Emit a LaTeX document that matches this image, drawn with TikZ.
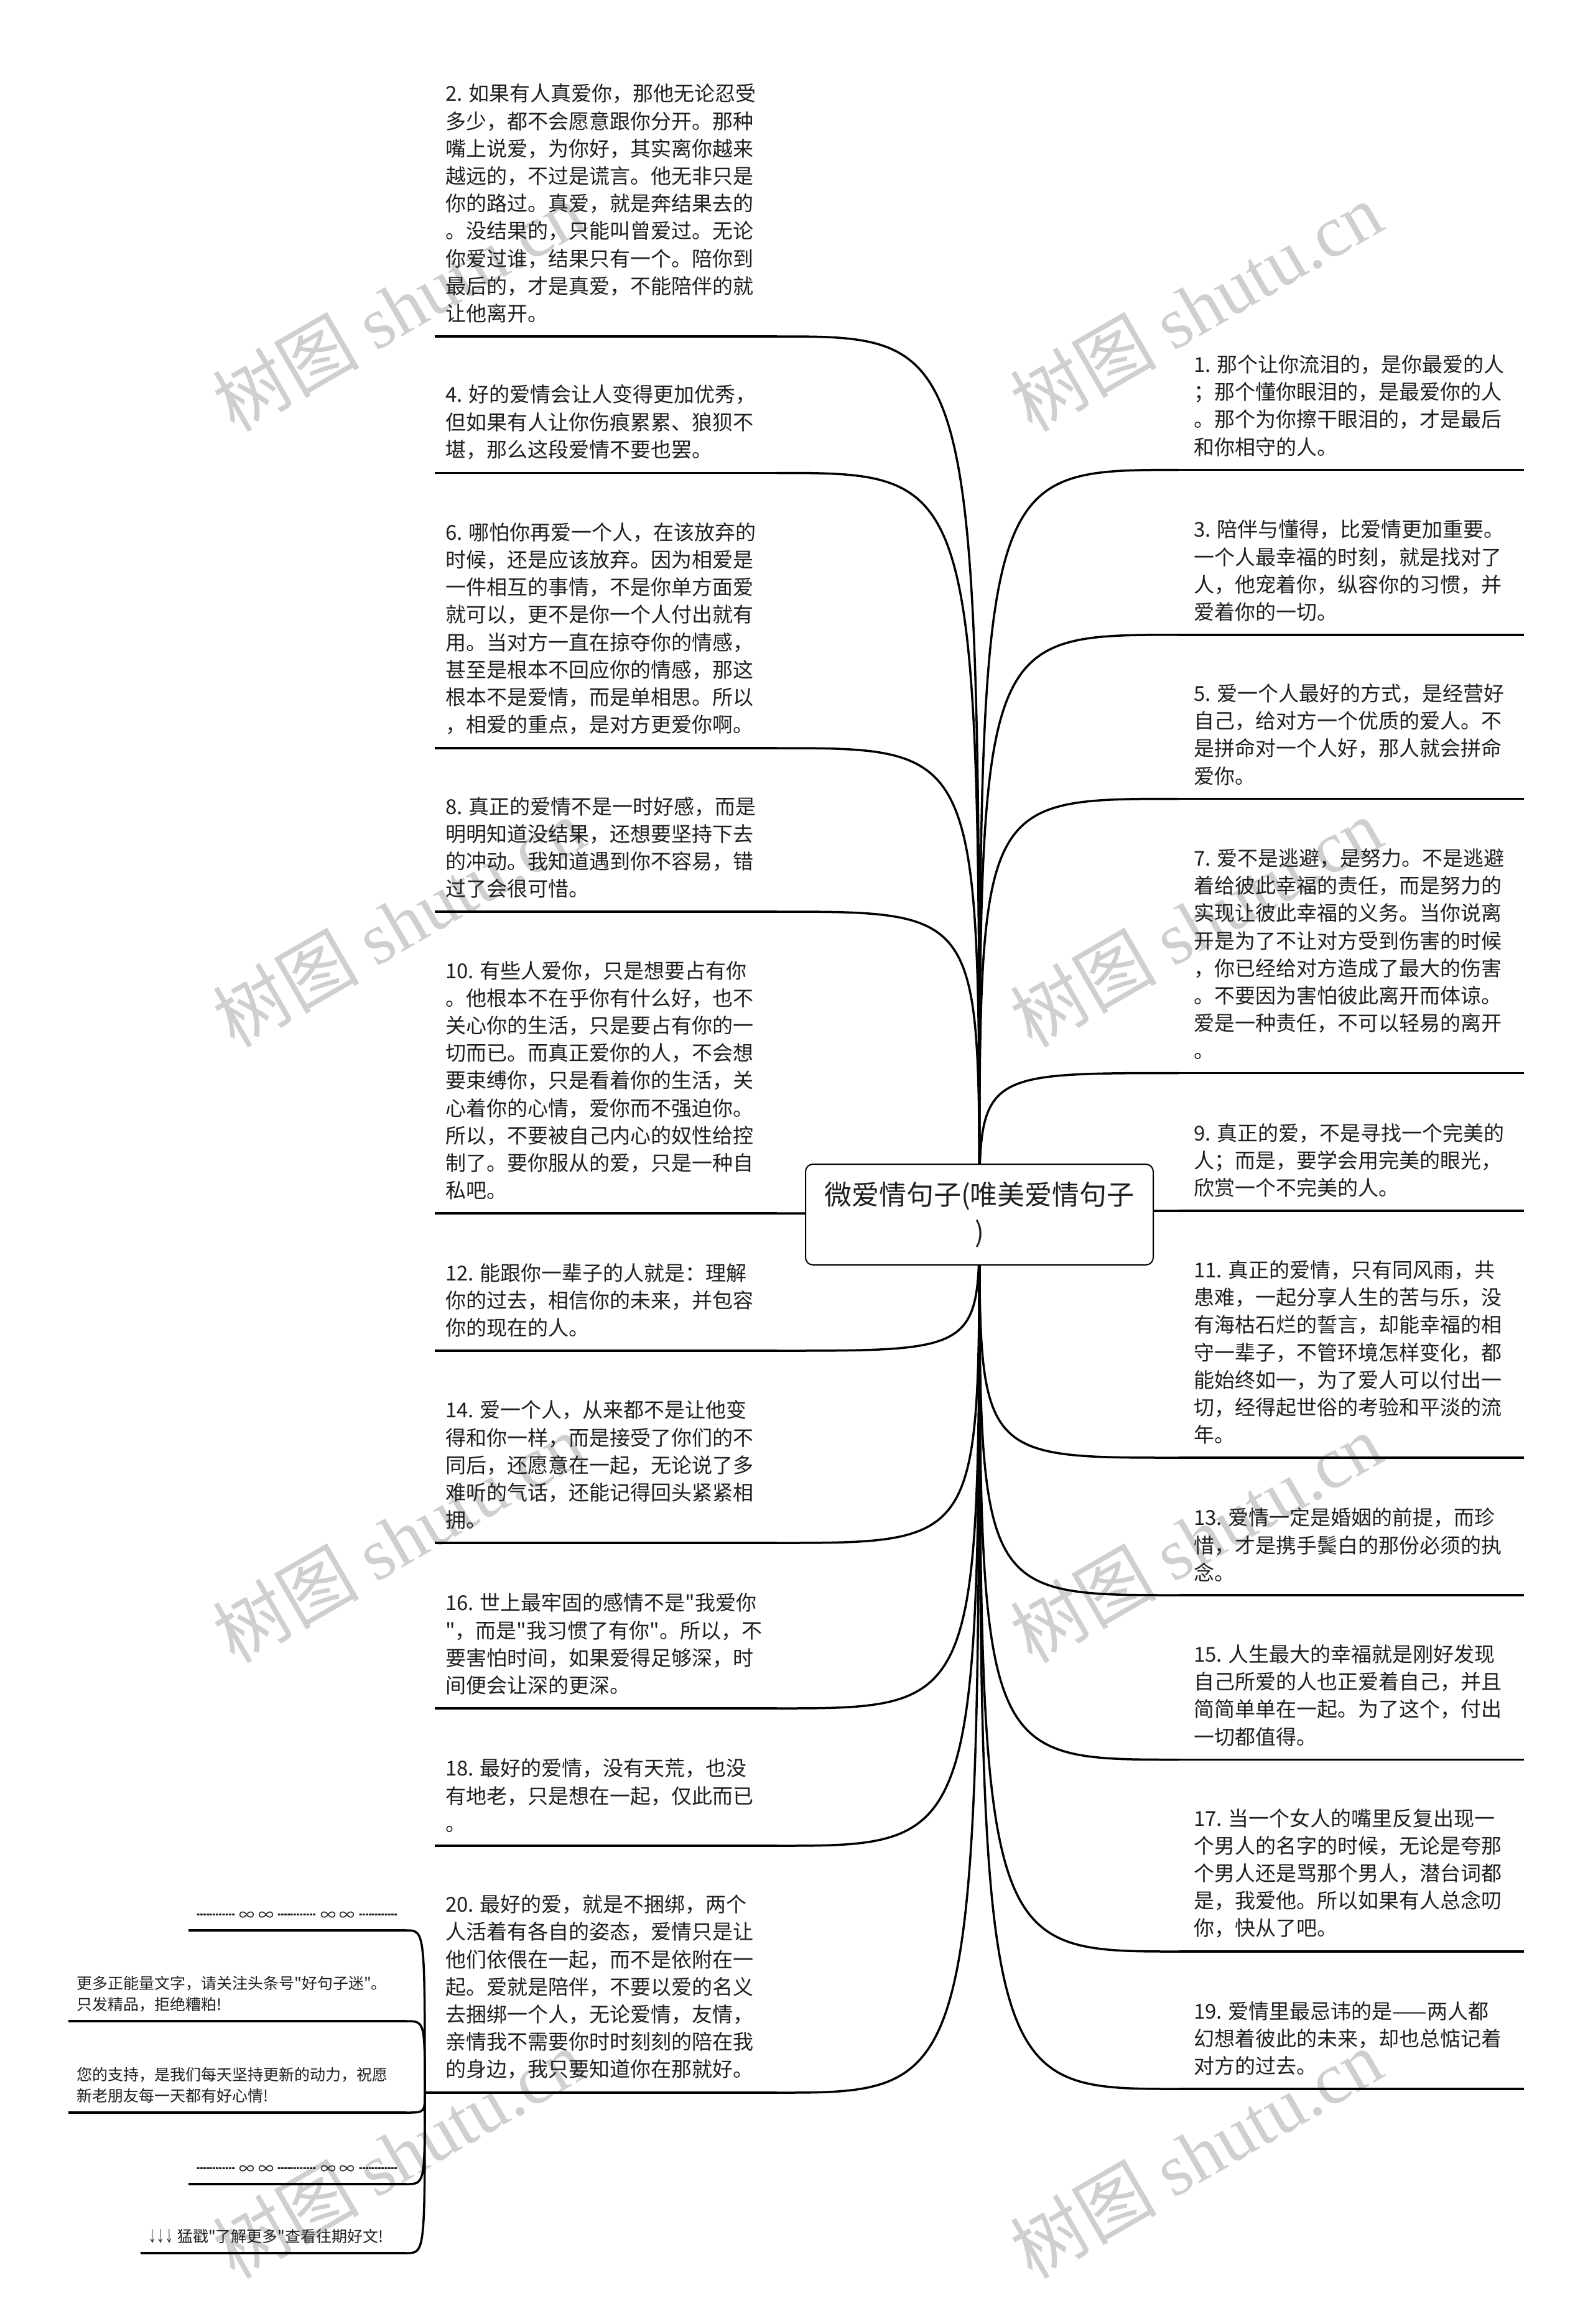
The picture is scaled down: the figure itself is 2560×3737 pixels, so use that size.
\documentclass[tikz,border=0pt]{standalone}
\usepackage{fontspec}
\usepackage{graphicx}
\newfontfamily\cjk{Noto Sans CJK SC}
\newfontfamily\wmlat{Liberation Serif}
\newcommand{\dashgrp}{\makebox[62pt][l]{\scalebox{0.83}[1]{┉┉┉}}}
\newcommand{\infbox}{\makebox[20pt]{∞}}
\newcommand{\ornline}{\dashgrp\hspace{9pt}\infbox\hspace{11pt}\infbox\hspace{8pt}\dashgrp\hspace{10pt}\infbox\hspace{10pt}\infbox\hspace{9pt}\dashgrp}
\begin{document}
\begin{tikzpicture}[x=1pt,y=-1pt]
\tikzset{
  conn/.style={line width=3.5pt, black},
  itemtext/.style={anchor=south west, inner sep=0pt, align=left, text=black!88,
    font=\cjk\fontsize{33}{44.2}\selectfont},
  smalltext/.style={anchor=south west, inner sep=0pt, align=left, text=black!88,
    font=\cjk\fontsize{25}{34}\selectfont},
  wm/.style={anchor=south west, inner sep=0pt, rotate=30, text=black!19,
    font=\cjk\fontsize{118}{118}\selectfont},
  rootbox/.style={draw, line width=2pt, fill=white, rounded corners=12pt,
    minimum width=559pt, minimum height=162pt, inner sep=0pt, align=center,
    text=black!88, font=\cjk\fontsize{44}{60}\selectfont}
}
\useasboundingbox (0,0) rectangle (2560,3737);
\fill[white] (0,0) rectangle (2560,3737);

% watermarks
\foreach \wy [count=\k] in {705,1695,2685,3675}{
  \node[wm] (wmL\k) at (382,\wy) {树图 {\wmlat shutu.cn}};
  \node[wm] (wmR\k) at (1664,\wy) {树图 {\wmlat shutu.cn}};
}

\coordinate (ctr) at (1574.5,1953);

% left items: underline ends
\foreach \n/\uy in {2/541,4/760.5,6/1203,8/1466,10/1951,12/2172,14/2481,16/2747,18/2968}{
  \coordinate (ua\n) at (699,\uy);
  \coordinate (ub\n) at (1249,\uy);
  \draw[conn] (ua\n) -- (ub\n);
  \draw[conn] (ctr) .. controls (ctr |- ub\n) .. (ub\n);
}
\coordinate (ua20) at (683,3365);
\coordinate (ub20) at (1249,3365);
\draw[conn] (ua20) -- (ub20);
\draw[conn] (ctr) .. controls (ctr |- ub20) .. (ub20);

% right items
\foreach \n/\uy in {1/755.6,3/1020.8,5/1284.5,7/1725.5,9/1947,11/2344,13/2565,15/2829.5,17/3138,19/3359}{
  \coordinate (ua\n) at (1895,\uy);
  \coordinate (ub\n) at (2450,\uy);
  \draw[conn] (ua\n) -- (ub\n);
  \draw[conn] (ctr) .. controls (ctr |- ua\n) .. (ua\n);
}

% small children of item 20
\foreach \m/\ux/\uy in {1/303/3104,2/110/3250,3/110/3397,4/303/3512,5/226/3623}{
  \coordinate (sa\m) at (\ux,\uy);
  \coordinate (sb\m) at (653,\uy);
  \draw[conn] (sa\m) -- (sb\m);
  \draw[conn] (ua20) .. controls (ua20 |- sb\m) .. (sb\m);
}

% texts left
\node[itemtext] (t2) at (716,519.5) {2. 如果有人真爱你，那他无论忍受\\多少，都不会愿意跟你分开。那种\\嘴上说爱，为你好，其实离你越来\\越远的，不过是谎言。他无非只是\\你的路过。真爱，就是奔结果去的\\。没结果的，只能叫曾爱过。无论\\你爱过谁，结果只有一个。陪你到\\最后的，才是真爱，不能陪伴的就\\让他离开。};
\node[itemtext] (t4) at (716,739) {4. 好的爱情会让人变得更加优秀，\\但如果有人让你伤痕累累、狼狈不\\堪，那么这段爱情不要也罢。};
\node[itemtext] (t6) at (716,1181.5) {6. 哪怕你再爱一个人，在该放弃的\\时候，还是应该放弃。因为相爱是\\一件相互的事情，不是你单方面爱\\就可以，更不是你一个人付出就有\\用。当对方一直在掠夺你的情感，\\甚至是根本不回应你的情感，那这\\根本不是爱情，而是单相思。所以\\，相爱的重点，是对方更爱你啊。};
\node[itemtext] (t8) at (716,1444.5) {8. 真正的爱情不是一时好感，而是\\明明知道没结果，还想要坚持下去\\的冲动。我知道遇到你不容易，错\\过了会很可惜。};
\node[itemtext] (t10) at (716,1929.5) {10. 有些人爱你，只是想要占有你\\。他根本不在乎你有什么好，也不\\关心你的生活，只是要占有你的一\\切而已。而真正爱你的人，不会想\\要束缚你，只是看着你的生活，关\\心着你的心情，爱你而不强迫你。\\所以，不要被自己内心的奴性给控\\制了。要你服从的爱，只是一种自\\私吧。};
\node[itemtext] (t12) at (716,2150.5) {12. 能跟你一辈子的人就是：理解\\你的过去，相信你的未来，并包容\\你的现在的人。};
\node[itemtext] (t14) at (716,2459.5) {14. 爱一个人，从来都不是让他变\\得和你一样，而是接受了你们的不\\同后，还愿意在一起，无论说了多\\难听的气话，还能记得回头紧紧相\\拥。};
\node[itemtext] (t16) at (716,2725.5) {16. 世上最牢固的感情不是"我爱你\\"，而是"我习惯了有你"。所以，不\\要害怕时间，如果爱得足够深，时\\间便会让深的更深。};
\node[itemtext] (t18) at (716,2946.5) {18. 最好的爱情，没有天荒，也没\\有地老，只是想在一起，仅此而已\\。};
\node[itemtext] (t20) at (716,3343.5) {20. 最好的爱，就是不捆绑，两个\\人活着有各自的姿态，爱情只是让\\他们依偎在一起，而不是依附在一\\起。爱就是陪伴，不要以爱的名义\\去捆绑一个人，无论爱情，友情，\\亲情我不需要你时时刻刻的陪在我\\的身边，我只要知道你在那就好。};

% texts right
\node[itemtext] (t1) at (1919,734) {1. 那个让你流泪的，是你最爱的人\\；那个懂你眼泪的，是最爱你的人\\。那个为你擦干眼泪的，才是最后\\和你相守的人。};
\node[itemtext] (t3) at (1919,999.3) {3. 陪伴与懂得，比爱情更加重要。\\一个人最幸福的时刻，就是找对了\\人，他宠着你，纵容你的习惯，并\\爱着你的一切。};
\node[itemtext] (t5) at (1919,1263) {5. 爱一个人最好的方式，是经营好\\自己，给对方一个优质的爱人。不\\是拼命对一个人好，那人就会拼命\\爱你。};
\node[itemtext] (t7) at (1919,1704) {7. 爱不是逃避，是努力。不是逃避\\着给彼此幸福的责任，而是努力的\\实现让彼此幸福的义务。当你说离\\开是为了不让对方受到伤害的时候\\，你已经给对方造成了最大的伤害\\。不要因为害怕彼此离开而体谅。\\爱是一种责任，不可以轻易的离开\\。};
\node[itemtext] (t9) at (1919,1925.5) {9. 真正的爱，不是寻找一个完美的\\人；而是，要学会用完美的眼光，\\欣赏一个不完美的人。};
\node[itemtext] (t11) at (1919,2322.5) {11. 真正的爱情，只有同风雨，共\\患难，一起分享人生的苦与乐，没\\有海枯石烂的誓言，却能幸福的相\\守一辈子，不管环境怎样变化，都\\能始终如一，为了爱人可以付出一\\切，经得起世俗的考验和平淡的流\\年。};
\node[itemtext] (t13) at (1919,2543.5) {13. 爱情一定是婚姻的前提，而珍\\惜，才是携手鬓白的那份必须的执\\念。};
\node[itemtext] (t15) at (1919,2808) {15. 人生最大的幸福就是刚好发现\\自己所爱的人也正爱着自己，并且\\简简单单在一起。为了这个，付出\\一切都值得。};
\node[itemtext] (t17) at (1919,3116.5) {17. 当一个女人的嘴里反复出现一\\个男人的名字的时候，无论是夸那\\个男人还是骂那个男人，潜台词都\\是，我爱他。所以如果有人总念叨\\你，快从了吧。};
\node[itemtext] (t19) at (1919,3337.5) {19. 爱情里最忌讳的是——两人都\\幻想着彼此的未来，却也总惦记着\\对方的过去。};

% small texts
\node[smalltext] (s1) at (316,3089) {\ornline};
\node[smalltext] (s2) at (123,3235) {更多正能量文字，请关注头条号"好句子迷"。\\只发精品，拒绝糟粕!};
\node[smalltext] (s3) at (123,3382) {您的支持，是我们每天坚持更新的动力，祝愿\\新老朋友每一天都有好心情!};
\node[smalltext] (s4) at (316,3497) {\ornline};
\node[smalltext] (s5) at (238,3608) {\scalebox{0.55}[1]{↓↓↓} 猛戳"了解更多"查看往期好文!};

% root
\node[rootbox] (root) at (ctr) {微爱情句子(唯美爱情句子\\)};
\end{tikzpicture}
\end{document}
